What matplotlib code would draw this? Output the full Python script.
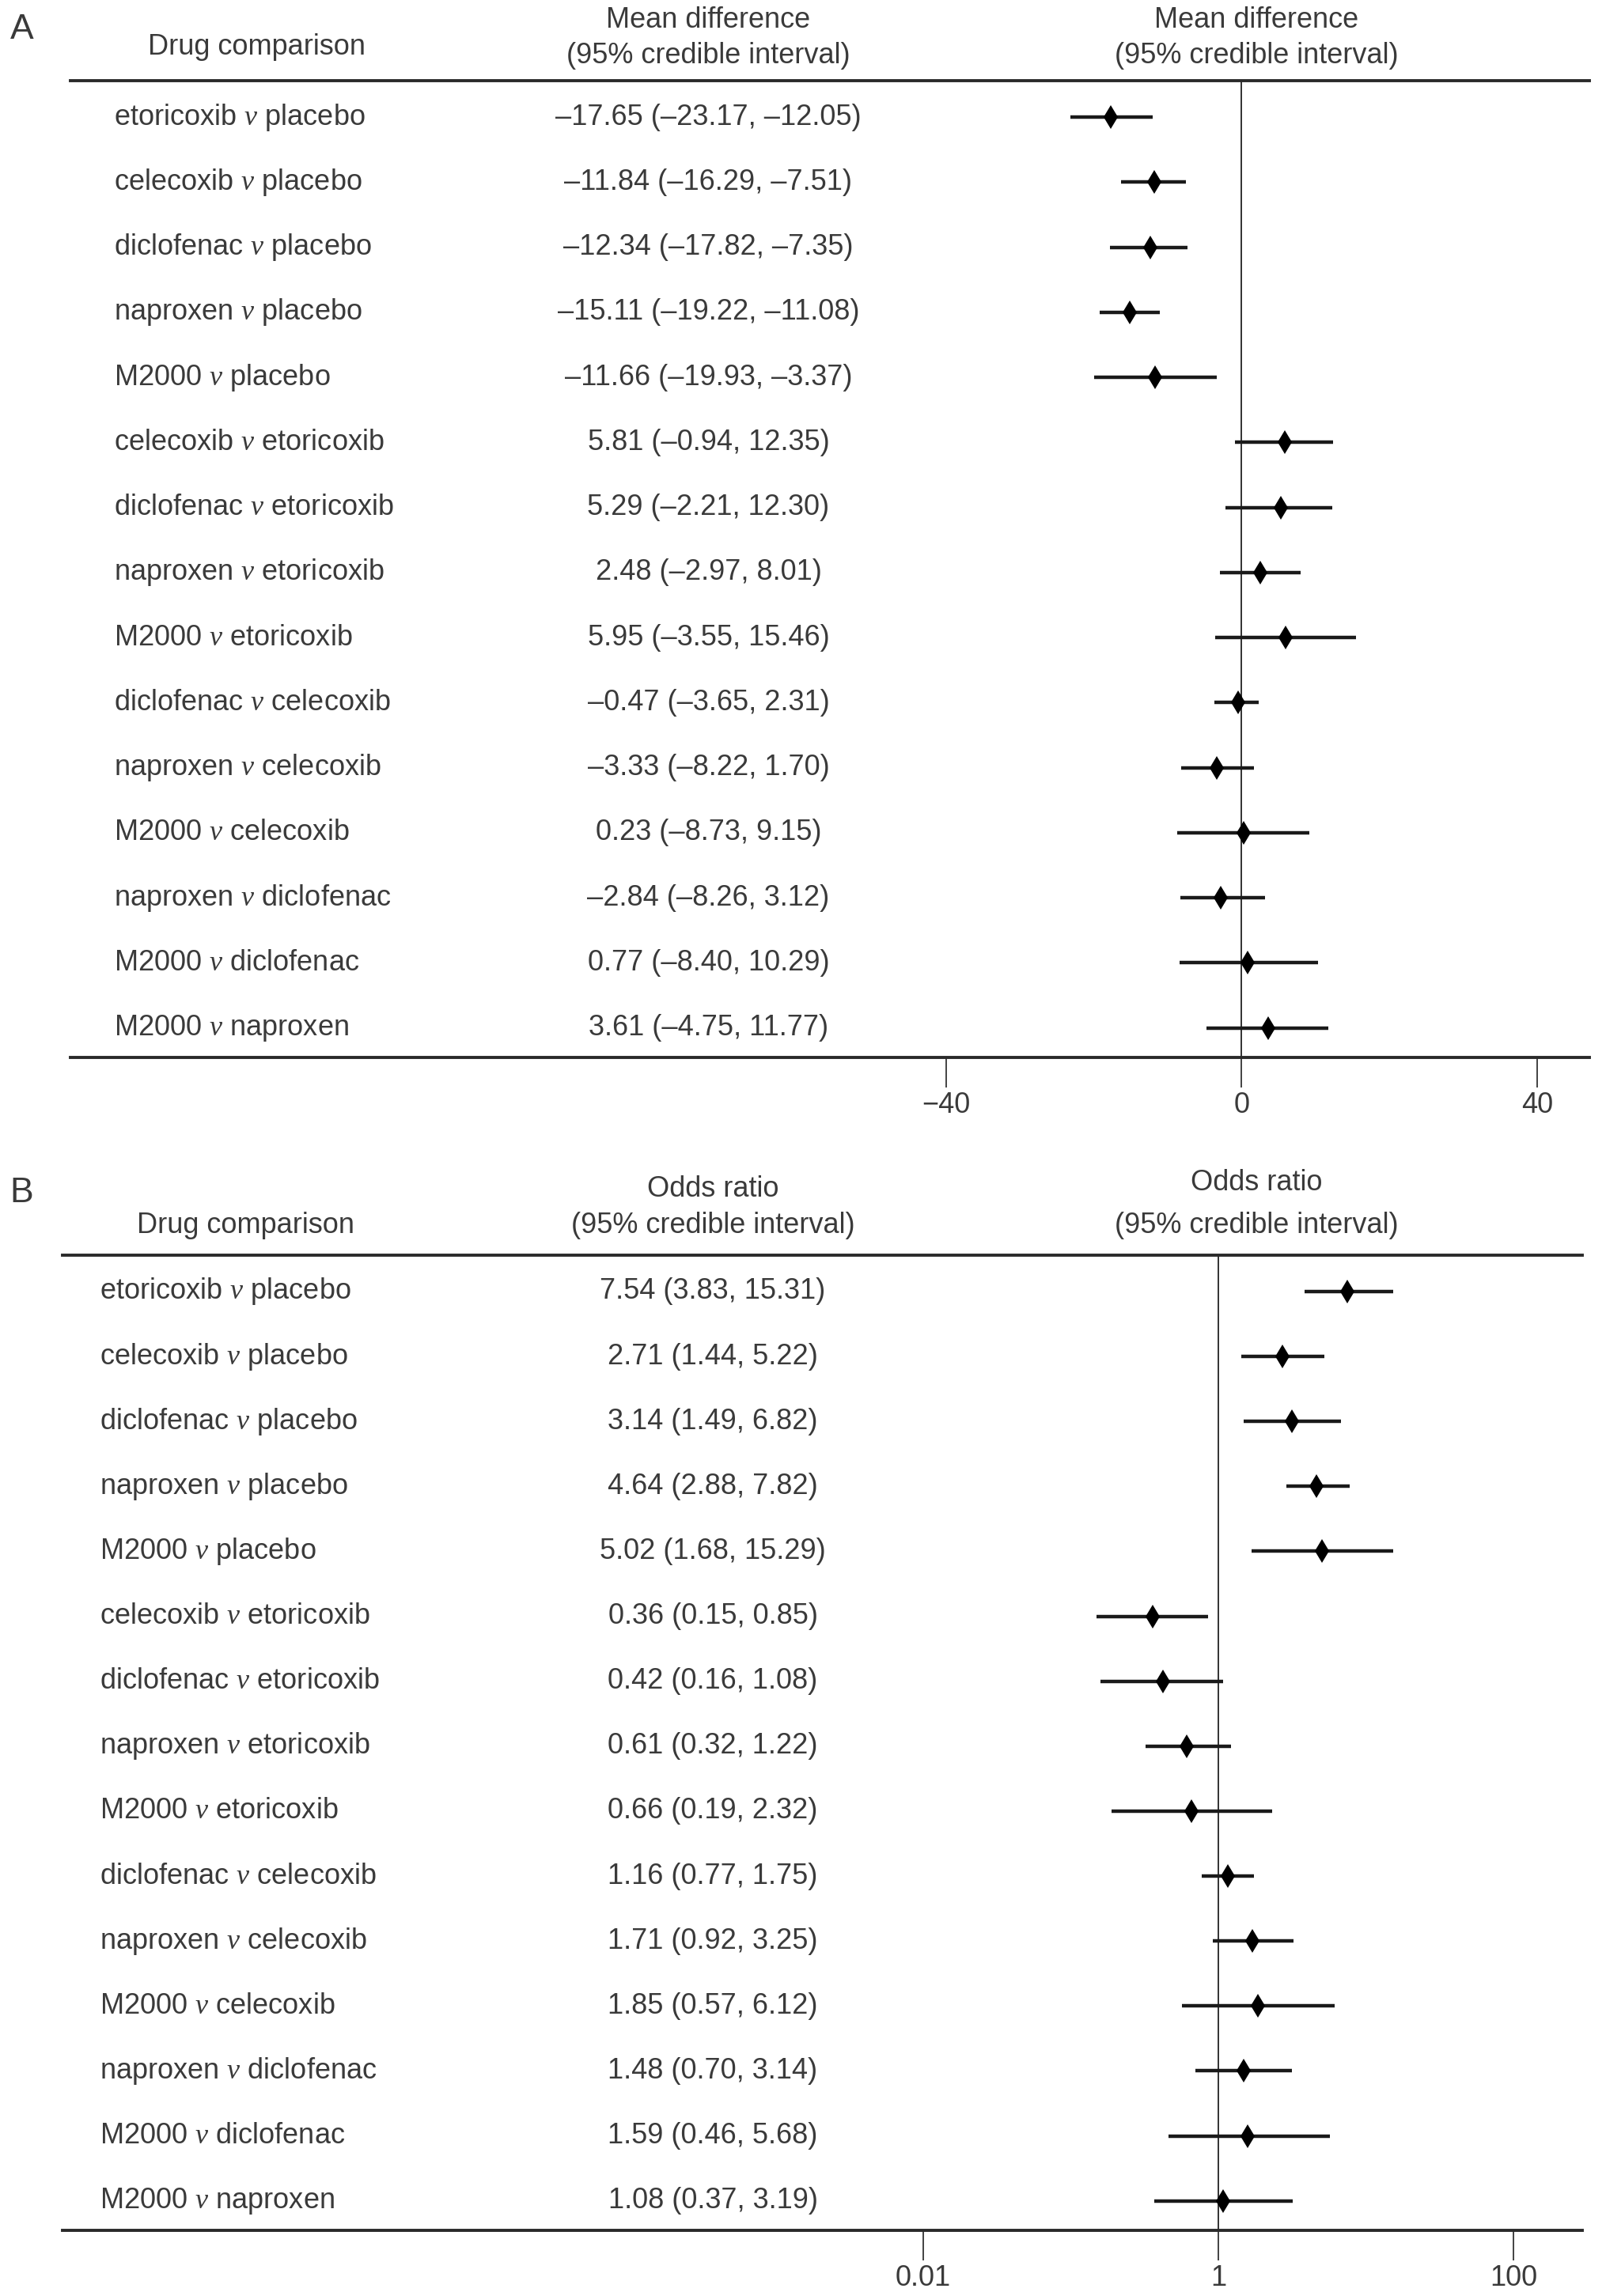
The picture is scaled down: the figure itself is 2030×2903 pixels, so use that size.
import matplotlib
matplotlib.use("Agg")
from matplotlib import pyplot as plt
import matplotlib.transforms as mtransforms

# data
comparisons = ["etoricoxib|placebo", "celecoxib|placebo", "diclofenac|placebo",
               "naproxen|placebo", "M2000|placebo", "celecoxib|etoricoxib",
               "diclofenac|etoricoxib", "naproxen|etoricoxib", "M2000|etoricoxib",
               "diclofenac|celecoxib", "naproxen|celecoxib", "M2000|celecoxib",
               "naproxen|diclofenac", "M2000|diclofenac", "M2000|naproxen"]

md = [-17.65, -11.84, -12.34, -15.11, -11.66, 5.81, 5.29, 2.48, 5.95,
      -0.47, -3.33, 0.23, -2.84, 0.77, 3.61]
md_lo = [-23.17, -16.29, -17.82, -19.22, -19.93, -0.94, -2.21, -2.97, -3.55,
         -3.65, -8.22, -8.73, -8.26, -8.40, -4.75]
md_hi = [-12.05, -7.51, -7.35, -11.08, -3.37, 12.35, 12.30, 8.01, 15.46,
         2.31, 1.70, 9.15, 3.12, 10.29, 11.77]

odds = [7.54, 2.71, 3.14, 4.64, 5.02, 0.36, 0.42, 0.61, 0.66,
        1.16, 1.71, 1.85, 1.48, 1.59, 1.08]
odds_lo = [3.83, 1.44, 1.49, 2.88, 1.68, 0.15, 0.16, 0.32, 0.19,
           0.77, 0.92, 0.57, 0.70, 0.46, 0.37]
odds_hi = [15.31, 5.22, 6.82, 7.82, 15.29, 0.85, 1.08, 1.22, 2.32,
           1.75, 3.25, 6.12, 3.14, 5.68, 3.19]

md_ticks = [-40, 0, 40]
or_ticks = [0.01, 1, 100]
or_ticklabels = ["0.01", "1", "100"]

plt.rcParams['font.family'] = ['Liberation Sans', 'DejaVu Sans']
plt.rcParams['mathtext.fontset'] = 'custom'
plt.rcParams['mathtext.it'] = 'Liberation Serif:italic'
plt.rcParams['mathtext.rm'] = 'Liberation Sans'

TXT = '#3a3a3a'
FS = 26
W, H = 1100.0, 1568.0   # layout measured on a scaled-down copy


def fx(x):
    return x / W


def fy(y):
    return 1 - y / H


def fmt(v):
    return ("%.2f" % v).replace("-", "\u2013")


def label(c):
    a, b = c.split("|")
    return a + r" $\mathit{v}$ " + b


fig = plt.figure(figsize=(20.31, 29.03), dpi=100)


def make_panel(left, right, top, bottom):
    ax = fig.add_axes([fx(left), fy(bottom), fx(right) - fx(left), fy(top) - fy(bottom)])
    for s in ['left', 'right']:
        ax.spines[s].set_visible(False)
    for s in ['top', 'bottom']:
        ax.spines[s].set_linewidth(2.8)
        ax.spines[s].set_color('#2a2a2a')
    ax.yaxis.set_visible(False)
    ax.tick_params(axis='x', which='major', direction='out', length=27, width=1.2,
                   color='#222222', labelsize=FS, labelcolor=TXT, pad=4)
    ax.tick_params(axis='x', which='minor', length=0)
    return ax


def draw_rows(ax, vals, lo, hi, labx, valx, ref, spacing_top, spacing_bot):
    n = len(vals)
    ax.set_ylim(n - 1 + spacing_bot, -spacing_top)
    ax.axvline(ref, color='#222222', lw=1.3, zorder=1)
    for i in range(n):
        ax.plot([lo[i], hi[i]], [i, i], color='#1a1a1a', lw=3.2, solid_capstyle='butt', zorder=2)
    ax.plot(vals, range(n), linestyle='none', marker='d', markersize=15,
            color='black', markeredgewidth=0, zorder=3)
    tr = mtransforms.blended_transform_factory(fig.transFigure, ax.transData)
    for i in range(n):
        ax.text(fx(labx), i, label(comparisons[i]), transform=tr, ha='left',
                va='center', fontsize=FS, color=TXT)
        ax.text(fx(valx), i, "%s (%s, %s)" % (fmt(vals[i]), fmt(lo[i]), fmt(hi[i])),
                transform=tr, ha='center', va='center', fontsize=FS, color=TXT)


# panel A
axA = make_panel(48, 1088, 55, 722)
sA = 5.0625
axA.set_xlim((48 - 850) / sA, (1088 - 850) / sA)
axA.set_xticks(md_ticks)
draw_rows(axA, md, md_lo, md_hi, 78, 485, 0, 25 / 44.4, 20 / 44.4)

fig.text(fx(15), fy(20), "A", fontsize=32, color=TXT, ha='center', va='center')
fig.text(fx(176), fy(32), "Drug comparison", fontsize=FS, color=TXT, ha='center', va='center')
for cx in [485, 860]:
    fig.text(fx(cx), fy(14), "Mean difference", fontsize=FS, color=TXT, ha='center', va='center')
    fig.text(fx(cx), fy(38), "(95% credible interval)", fontsize=FS, color=TXT, ha='center', va='center')

# panel B
axB = make_panel(43, 1083, 857, 1523)
axB.set_xscale('log')
sB = 101.0
axB.set_xlim(10 ** ((43 - 834) / sB), 10 ** ((1083 - 834) / sB))
axB.set_xticks(or_ticks)
axB.set_xticklabels(or_ticklabels)
axB.minorticks_off()
draw_rows(axB, odds, odds_lo, odds_hi, 68, 488, 1, 25 / 44.36, 20 / 44.36)

fig.text(fx(15), fy(815), "B", fontsize=32, color=TXT, ha='center', va='center')
fig.text(fx(168), fy(837), "Drug comparison", fontsize=FS, color=TXT, ha='center', va='center')
fig.text(fx(488), fy(812), "Odds ratio", fontsize=FS, color=TXT, ha='center', va='center')
fig.text(fx(488), fy(837), "(95% credible interval)", fontsize=FS, color=TXT, ha='center', va='center')
fig.text(fx(860), fy(808), "Odds ratio", fontsize=FS, color=TXT, ha='center', va='center')
fig.text(fx(860), fy(837), "(95% credible interval)", fontsize=FS, color=TXT, ha='center', va='center')

plt.savefig("out.png", dpi=100, facecolor='white')
